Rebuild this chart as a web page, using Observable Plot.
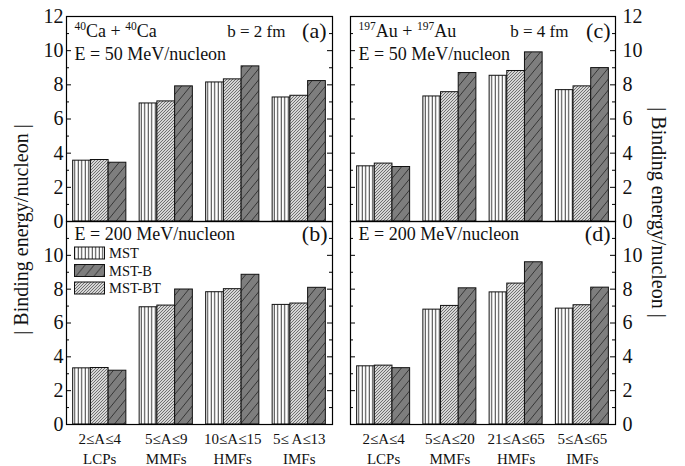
<!DOCTYPE html>
<html><head><meta charset="utf-8">
<script src="https://cdn.jsdelivr.net/npm/d3@7"></script>
<script src="https://cdn.jsdelivr.net/npm/@observablehq/plot@0.6"></script>
<style>
html,body{margin:0;padding:0;background:#fff;}
#chart{position:relative;width:685px;height:466px;font-family:"Liberation Serif","Times New Roman",serif;overflow:hidden;}
#chart > svg{position:absolute;}
</style></head><body>
<svg width="0" height="0" style="position:absolute">
<defs>
 <pattern id="pMST" patternUnits="userSpaceOnUse" width="3.5" height="10">
   <rect width="3.5" height="10" fill="white"/>
   <line x1="1.2" y1="0" x2="1.2" y2="10" stroke="#222" stroke-width="0.9"/>
 </pattern>
 <pattern id="pBT" patternUnits="userSpaceOnUse" width="3" height="3">
   <rect width="3" height="3" fill="#d6d6d6"/>
   <path d="M-1,1 L1,-1 M0,3 L3,0 M2,4 L4,2" stroke="#444" stroke-width="0.7"/>
 </pattern>
 <pattern id="pB" patternUnits="userSpaceOnUse" width="9" height="11">
   <rect width="9" height="11" fill="#7e7e7e"/>
   <path d="M-1,1.2 L1,-1.2 M0,11 L9,0 M8,12.2 L10,9.8" stroke="#222" stroke-width="0.8"/>
 </pattern>
</defs></svg>
<div id="chart"></div>
<script>
// ---- data ----
const series = ["MST", "MST-BT", "MST-B"];          // bar order within a group
const legendOrder = ["MST", "MST-B", "MST-BT"];     // legend order
const classes = ["LCPs", "MMFs", "HMFs", "IMFs"];
const caRanges = ["2≤A≤4", "5≤A≤9", "10≤A≤15", "5≤ A≤13"];
const auRanges = ["2≤A≤4", "5≤A≤20", "21≤A≤65", "5≤A≤65"];
const yTickLabelsTop = [0, 2, 4, 6, 8, 10, 12];
const yTickLabelsBottom = [0, 2, 4, 6, 8, 10];

// values: [MST, MST-BT, MST-B] each over the 4 fragment classes
const ca50MST = [3.56, 6.91, 8.14, 7.26];
const ca50BT  = [3.60, 7.03, 8.32, 7.36];
const ca50B   = [3.44, 7.91, 9.08, 8.22];
const ca200MST = [3.32, 6.93, 7.82, 7.07];
const ca200BT  = [3.34, 7.03, 8.00, 7.15];
const ca200B   = [3.18, 7.98, 8.85, 8.08];
const au50MST = [3.23, 7.32, 8.53, 7.69];
const au50BT  = [3.39, 7.57, 8.81, 7.91];
const au50B   = [3.19, 8.69, 9.90, 8.98];
const au200MST = [3.44, 6.79, 7.81, 6.85];
const au200BT  = [3.48, 7.01, 8.33, 7.05];
const au200B   = [3.33, 8.05, 9.59, 8.09];

const patternOf = {"MST": "url(#pMST)", "MST-BT": "url(#pBT)", "MST-B": "url(#pB)"};
const yTitle = "| Binding energy/nucleon |";

const chart = document.getElementById("chart");
const W = 345;

function supify(svg) {
  svg.querySelectorAll("text").forEach(el => {
    const t = el.textContent;
    if (!t.includes("^{")) return;
    while (el.firstChild) el.removeChild(el.firstChild);
    const parts = t.split(/(\^\{[^}]*\})/).filter(p => p.length);
    let raised = false;
    parts.forEach(p => {
      const ts = document.createElementNS("http://www.w3.org/2000/svg", "tspan");
      if (p.startsWith("^{")) {
        ts.textContent = p.slice(2, -1);
        ts.setAttribute("font-size", "11.5");
        ts.setAttribute("dy", "-7");
        raised = true;
      } else {
        ts.textContent = p;
        if (raised) { ts.setAttribute("dy", "7"); raised = false; }
      }
      el.appendChild(ts);
    });
  });
}

function makePanel(cfg) {
  const {values, side, isTop, left, top} = cfg;
  const H = isTop ? 222 : 254;
  const mt = isTop ? 16 : 9, mb = isTop ? 1 : 42;
  const ml = side === "left" ? 66 : 10, mr = side === "left" ? 13 : 70;
  const fw = W - ml - mr;
  const rows = series.flatMap((s, si) => values[si].map((v, gi) => ({s, si, gi, v})));
  const gw = 0.8, bw = gw / series.length;
  const majorTicks = d3.range(2, 12, 2);
  const minorTicks = d3.range(1, 12, 2);
  const labels = isTop ? yTickLabelsTop : yTickLabelsBottom;
  const txt = {fill: "#111", lineAnchor: "middle"};
  const marks = [
    Plot.rect(rows, {
      x1: d => d.gi - gw / 2 + d.si * bw,
      x2: d => d.gi - gw / 2 + (d.si + 1) * bw,
      y1: () => 0, y2: d => d.v,
      fill: d => patternOf[d.s], stroke: "#111", strokeWidth: 1
    }),
    Plot.tickY(majorTicks, {y: d => d, insetRight: fw - 5, stroke: "#000"}),
    Plot.tickY(majorTicks, {y: d => d, insetLeft: fw - 5, stroke: "#000"}),
    Plot.tickY(minorTicks, {y: d => d, insetRight: fw - 3, stroke: "#000"}),
    Plot.tickY(minorTicks, {y: d => d, insetLeft: fw - 3, stroke: "#000"}),
    Plot.frame({stroke: "#000", strokeWidth: 1.2}),
    Plot.text(labels, {
      ...txt, y: d => d, text: d => String(d), frameAnchor: side,
      textAnchor: side === "left" ? "end" : "start",
      dx: side === "left" ? -3 : 7, fontSize: 20
    })
  ];
  if (cfg.system) {
    marks.push(Plot.text([cfg.system], {...txt, frameAnchor: "top-left", dx: 8, dy: 15, textAnchor: "start", fontSize: 18}));
    marks.push(Plot.text([cfg.impact], {...txt, frameAnchor: "top-right", dx: -47, dy: 15, textAnchor: "end", fontSize: 17}));
  }
  marks.push(Plot.text([cfg.energy], {...txt, frameAnchor: "top-left", dx: 8, dy: isTop ? 38 : 12.5, textAnchor: "start", fontSize: 18}));
  marks.push(Plot.text([cfg.letter], {...txt, frameAnchor: "top-right", dx: cfg.letterDx, dy: isTop ? 14.5 : 12.5, textAnchor: "end", fontSize: 22}));
  if (!isTop) {
    marks.push(Plot.text(cfg.ranges, {...txt, x: (d, i) => i, frameAnchor: "bottom", dy: 15, text: d => d, fontSize: 15}));
    marks.push(Plot.text(classes, {...txt, x: (d, i) => i, frameAnchor: "bottom", dy: 34.5, text: d => d, fontSize: 15}));
    if (side === "left") {
      marks.push(Plot.text([yTitle], {...txt, frameAnchor: "top-left", textAnchor: "middle", dx: 21 - 66, dy: 8, rotate: -90, fontSize: 20}));
    } else {
      marks.push(Plot.text([yTitle], {...txt, frameAnchor: "top-right", textAnchor: "middle", dx: 43, dy: -9, rotate: 90, fontSize: 20}));
    }
  }
  const svg = Plot.plot({
    width: W, height: H,
    marginTop: mt, marginBottom: mb, marginLeft: ml, marginRight: mr,
    x: {domain: [-0.5, 3.5], axis: null},
    y: {domain: [0, 12], axis: null},
    color: {type: "identity"},
    style: {fontFamily: '"Liberation Serif","Times New Roman",serif', fontSize: "20px", background: "transparent", overflow: "visible"},
    marks
  });
  svg.style.left = left + "px";
  svg.style.top = top + "px";
  supify(svg);
  chart.appendChild(svg);
  return svg;
}

makePanel({values: [ca50MST, ca50BT, ca50B], side: "left", isTop: true, left: 0, top: 0,
  system: "^{40}Ca + ^{40}Ca", impact: "b = 2 fm", energy: "E = 50 MeV/nucleon", letter: "(a)", letterDx: -6});
makePanel({values: [au50MST, au50BT, au50B], side: "right", isTop: true, left: 340, top: 0,
  system: "^{197}Au + ^{197}Au", impact: "b = 4 fm", energy: "E = 50 MeV/nucleon", letter: "(c)", letterDx: -5});
makePanel({values: [ca200MST, ca200BT, ca200B], side: "left", isTop: false, left: 0, top: 212,
  energy: "E = 200 MeV/nucleon", letter: "(b)", letterDx: -5, ranges: caRanges});
makePanel({values: [au200MST, au200BT, au200B], side: "right", isTop: false, left: 340, top: 212,
  energy: "E = 200 MeV/nucleon", letter: "(d)", letterDx: -5, ranges: auRanges});

// legend (inside panel b)
const leg = d3.select(chart).append("svg")
  .attr("width", 120).attr("height", 70)
  .style("left", "70px").style("top", "244px")
  .style("font-family", '"Liberation Serif","Times New Roman",serif');
legendOrder.forEach((s, i) => {
  const g = leg.append("g").attr("transform", `translate(0,${i * 17.5})`);
  g.append("rect").attr("x", 4.5).attr("y", 3).attr("width", 30).attr("height", 12)
    .attr("fill", patternOf[s]).attr("stroke", "#111").attr("stroke-width", 1);
  g.append("text").attr("x", 39).attr("y", 14).attr("font-size", 14.5).attr("fill", "#111").text(s);
});
</script>
</body></html>
